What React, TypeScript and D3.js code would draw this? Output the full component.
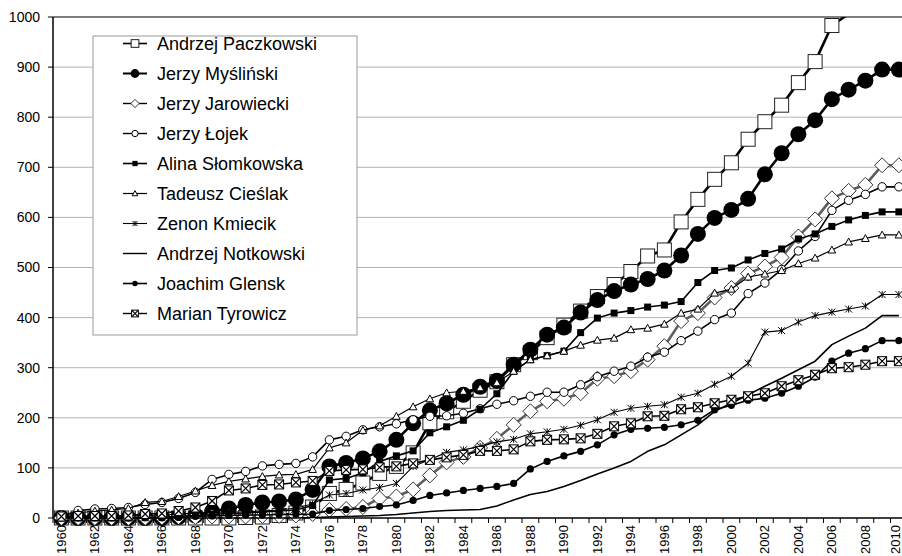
import React from "react";
import * as d3 from "d3";

const years = [
  1960, 1961, 1962, 1963, 1964, 1965, 1966, 1967, 1968, 1969,
  1970, 1971, 1972, 1973, 1974, 1975, 1976, 1977, 1978, 1979,
  1980, 1981, 1982, 1983, 1984, 1985, 1986, 1987, 1988, 1989,
  1990, 1991, 1992, 1993, 1994, 1995, 1996, 1997, 1998, 1999,
  2000, 2001, 2002, 2003, 2004, 2005, 2006, 2007, 2008, 2009, 2010,
];

const yTicks = [0, 100, 200, 300, 400, 500, 600, 700, 800, 900, 1000];

const paczkowski = [
  0, 0, 0, 0, 0, 0, 0, 0, 0, 0,
  0, 1, 2, 5, 10, 22, 49, 57, 70, 89,
  103, 130, 190, 212, 233, 255, 272, 306, 330, 360,
  385, 413, 442, 466, 492, 523, 535, 591, 636, 676,
  709, 756, 791, 824, 869, 911, 983, 1006, 1040, 1070, 1090,
];
const myslinski = [
  0, 0, 0, 0, 0, 0, 0, 2, 5, 13,
  19, 26, 31, 33, 37, 56, 103, 110, 119, 133,
  156, 189, 215, 229, 246, 262, 274, 306, 336, 366,
  380, 410, 435, 453, 466, 477, 494, 524, 567, 599,
  615, 637, 686, 728, 766, 794, 836, 855, 873, 895, 895,
];
const jarowiecki = [
  0, 0, 0, 0, 0, 0, 1, 2, 2, 3,
  3, 3, 4, 4, 5, 8, 16, 18, 22, 39,
  43, 57, 85, 111, 122, 140, 158, 186, 213, 233,
  238, 249, 278, 283, 293, 316, 343, 393, 409, 440,
  459, 488, 502, 520, 562, 596, 638, 653, 665, 704, 704,
];
const lojek = [
  3, 15, 18, 19, 21, 27, 31, 39, 51, 77,
  87, 93, 104, 107, 109, 122, 156, 163, 176, 182,
  188, 196, 203, 204, 209, 218, 227, 234, 243, 251,
  251, 266, 282, 293, 303, 321, 331, 354, 373, 396,
  409, 448, 469, 496, 533, 562, 614, 634, 646, 661, 661,
];
const slomkowska = [
  0, 0, 0, 0, 0, 1, 2, 3, 5, 7,
  9, 10, 12, 14, 16, 25, 76, 79, 90, 113,
  124, 134, 170, 182, 195, 217, 248, 293, 316, 324,
  333, 370, 399, 409, 414, 421, 425, 432, 470, 494,
  499, 515, 528, 537, 557, 567, 582, 595, 604, 611, 611,
];
const cieslak = [
  2, 10, 14, 16, 19, 31, 33, 43, 54, 65,
  73, 78, 83, 86, 87, 97, 140, 150, 175, 184,
  203, 222, 238, 250, 253, 260, 270, 293, 316, 324,
  333, 345, 355, 359, 376, 379, 387, 409, 417, 449,
  457, 481, 487, 494, 508, 519, 535, 551, 558, 565, 565,
];
const kmiecik = [
  2, 3, 3, 3, 4, 5, 6, 8, 10, 11,
  12, 12, 14, 16, 20, 28, 46, 49, 56, 61,
  69, 103, 117, 131, 136, 143, 152, 157, 168, 172,
  177, 185, 196, 211, 219, 223, 226, 241, 249, 267,
  283, 309, 371, 374, 391, 404, 411, 417, 423, 446, 446,
];
const notkowski = [
  0, 0, 0, 0, 0, 0, 0, 0, 0, 0,
  0, 0, 0, 0, 0, 1, 2, 3, 4, 5,
  7, 10, 13, 15, 16, 17, 24, 36, 47, 53,
  63, 75, 88, 100, 113, 133, 146, 166, 186, 213,
  229, 246, 263, 279, 296, 313, 346, 363, 379, 404, 404,
];
const glensk = [
  0, 0, 0, 0, 0, 0, 0, 1, 3, 4,
  5, 6, 6, 7, 7, 8, 15, 17, 19, 23,
  26, 35, 45, 50, 55, 59, 63, 69, 98, 113,
  124, 133, 146, 166, 177, 179, 181, 186, 195, 216,
  225, 235, 239, 249, 263, 281, 313, 329, 338, 354, 354,
];
const tyrowicz = [
  3, 4, 4, 4, 5, 8, 9, 14, 21, 34,
  55, 59, 66, 67, 71, 74, 94, 96, 97, 101,
  103, 109, 116, 121, 126, 134, 134, 137, 153, 156,
  157, 159, 168, 183, 189, 203, 204, 217, 221, 229,
  236, 243, 249, 263, 275, 286, 299, 301, 306, 313, 313,
];

const seriesNames = [
  "Andrzej Paczkowski",
  "Jerzy Myśliński",
  "Jerzy Jarowiecki",
  "Jerzy Łojek",
  "Alina Słomkowska",
  "Tadeusz Cieślak",
  "Zenon Kmiecik",
  "Andrzej Notkowski",
  "Joachim Glensk",
  "Marian Tyrowicz",
];
const seriesValues = [
  paczkowski, myslinski, jarowiecki, lojek, slomkowska,
  cieslak, kmiecik, notkowski, glensk, tyrowicz,
];

type MarkerKind =
  | "bigSquare" | "bigCircle" | "diamond" | "openCircle" | "filledSquare"
  | "triangle" | "star" | "none" | "dot" | "xSquare";

const styles: { marker: MarkerKind; stroke: string; width: number; legendWidth: number }[] = [
  { marker: "bigSquare", stroke: "#000", width: 2.6, legendWidth: 1.6 },
  { marker: "bigCircle", stroke: "#000", width: 2.6, legendWidth: 2 },
  { marker: "diamond", stroke: "#5e5e5e", width: 2.6, legendWidth: 1.4 },
  { marker: "openCircle", stroke: "#000", width: 1.6, legendWidth: 1.4 },
  { marker: "filledSquare", stroke: "#000", width: 1.6, legendWidth: 1.6 },
  { marker: "triangle", stroke: "#000", width: 1.2, legendWidth: 1.2 },
  { marker: "star", stroke: "#000", width: 1.1, legendWidth: 1.1 },
  { marker: "none", stroke: "#000", width: 1.6, legendWidth: 1.4 },
  { marker: "dot", stroke: "#000", width: 1.6, legendWidth: 1.6 },
  { marker: "xSquare", stroke: "#000", width: 1.6, legendWidth: 1.4 },
];

const W = 902;
const H = 556;
const left = 53;
const top = 17;
const bottom = 518;
const band = 16.75;
const font = "'Liberation Sans', Arial, sans-serif";

function Marker({ kind, x, y, s }: { kind: MarkerKind; x: number; y: number; s: number }) {
  switch (kind) {
    case "bigSquare": {
      const h = 7 * s;
      return <rect x={x - h} y={y - h} width={2 * h} height={2 * h} fill="#fff" stroke="#222" strokeWidth={1} />;
    }
    case "bigCircle":
      return <circle cx={x} cy={y} r={8 * s} fill="#000" />;
    case "diamond": {
      const h = 7.5 * s;
      return (
        <path d={`M${x},${y - h}L${x + h},${y}L${x},${y + h}L${x - h},${y}Z`} fill="#fff" stroke="#333" strokeWidth={1} />
      );
    }
    case "openCircle":
      return <circle cx={x} cy={y} r={4.2 * s} fill="#fff" stroke="#000" strokeWidth={1} />;
    case "filledSquare": {
      const h = 3.5 * s;
      return <rect x={x - h} y={y - h} width={2 * h} height={2 * h} fill="#000" />;
    }
    case "triangle": {
      const h = 3.8 * s;
      return (
        <path d={`M${x},${y - h}L${x + h},${y + h * 0.8}L${x - h},${y + h * 0.8}Z`} fill="#fff" stroke="#000" strokeWidth={1} />
      );
    }
    case "star": {
      const h = 3.5 * s;
      return (
        <path d={`M${x - h},${y - h}L${x + h},${y + h}M${x + h},${y - h}L${x - h},${y + h}M${x},${y - h}L${x},${y + h}`} stroke="#000" strokeWidth={1} fill="none" />
      );
    }
    case "dot":
      return <circle cx={x} cy={y} r={3.6 * s} fill="#000" />;
    case "xSquare": {
      const h = 4.5 * s;
      return (
        <g>
          <rect x={x - h} y={y - h} width={2 * h} height={2 * h} fill="#fff" stroke="#000" strokeWidth={1} />
          <path d={`M${x - h},${y - h}L${x + h},${y + h}M${x + h},${y - h}L${x - h},${y + h}`} stroke="#000" strokeWidth={1.2} />
        </g>
      );
    }
    default:
      return null;
  }
}

export default function App() {
  const x = d3
    .scaleBand<number>()
    .domain(years)
    .range([left, left + band * years.length])
    .paddingInner(0)
    .paddingOuter(0);
  const cx = (yr: number) => (x(yr) as number) + x.bandwidth() / 2;
  const y = d3.scaleLinear().domain([0, 1000]).range([bottom, top]);

  const line = d3
    .line<number>()
    .x((_, i) => cx(years[i]))
    .y((v) => y(v));

  return (
    <svg width={W} height={H} style={{ position: "absolute", left: 0, top: 0, background: "#fff" }} fontFamily={font}>
      <defs>
        <clipPath id="plotClip">
          <rect x={0} y={top} width={W} height={H - top} />
        </clipPath>
      </defs>
      <rect x={0} y={0} width={W} height={H} fill="#fff" />

      {yTicks.filter((t) => t > 0 && t < 1000).map((t) => (
        <line key={t} x1={left} x2={W} y1={y(t)} y2={y(t)} stroke="#b4b4b4" strokeWidth={1} />
      ))}
      <line x1={left} x2={W} y1={y(1000)} y2={y(1000)} stroke="#000" strokeWidth={1.2} />

      <line x1={left} x2={left} y1={top} y2={bottom} stroke="#000" strokeWidth={1.5} />
      {yTicks.map((t) => (
        <g key={t}>
          <line x1={left - 5} x2={left} y1={y(t)} y2={y(t)} stroke="#000" strokeWidth={1} />
          <text x={40} y={y(t)} dy="0.35em" textAnchor="end" fontSize={14} fill="#000">
            {t}
          </text>
        </g>
      ))}

      <line x1={left} x2={W} y1={bottom} y2={bottom} stroke="#000" strokeWidth={1.5} />
      {years.map((yr) => (
        <line key={yr} x1={x(yr) as number} x2={x(yr) as number} y1={bottom} y2={bottom + 5} stroke="#000" strokeWidth={1} />
      ))}
      {years.filter((yr) => yr % 2 === 0).map((yr) => (
        <text
          key={yr}
          transform={`translate(${Math.min(cx(yr), 895)},${525}) rotate(-90)`}
          dy="0.35em"
          textAnchor="end"
          fontSize={13}
          fill="#000"
        >
          {yr}
        </text>
      ))}

      {seriesValues.map((vals, si) => {
        const st = styles[si];
        return (
          <g key={seriesNames[si]}>
            <path d={line(vals) || ""} fill="none" stroke={st.stroke} strokeWidth={st.width} strokeLinejoin="round" clipPath="url(#plotClip)" />
            {st.marker !== "none" &&
              vals.map((v, i) =>
                v <= 1000 ? <Marker key={i} kind={st.marker} x={cx(years[i])} y={y(v)} s={1} /> : null
              )}
          </g>
        );
      })}

      <g>
        <rect x={93} y={36} width={264} height={299} fill="#fff" stroke="#9a9a9a" strokeWidth={1} />
        {seriesNames.map((name, i) => {
          const st = styles[i];
          const cy = 43.5 + i * 30;
          return (
            <g key={name}>
              <line x1={123} x2={147} y1={cy} y2={cy} stroke="#000" strokeWidth={st.legendWidth} />
              {st.marker !== "none" && <Marker kind={st.marker} x={135} y={cy} s={st.marker === "bigSquare" || st.marker === "bigCircle" || st.marker === "diamond" ? 0.55 : 0.75} />}
              <text x={157} y={49.5 + i * 30} fontSize={18} fill="#000">
                {name}
              </text>
            </g>
          );
        })}
      </g>
    </svg>
  );
}
